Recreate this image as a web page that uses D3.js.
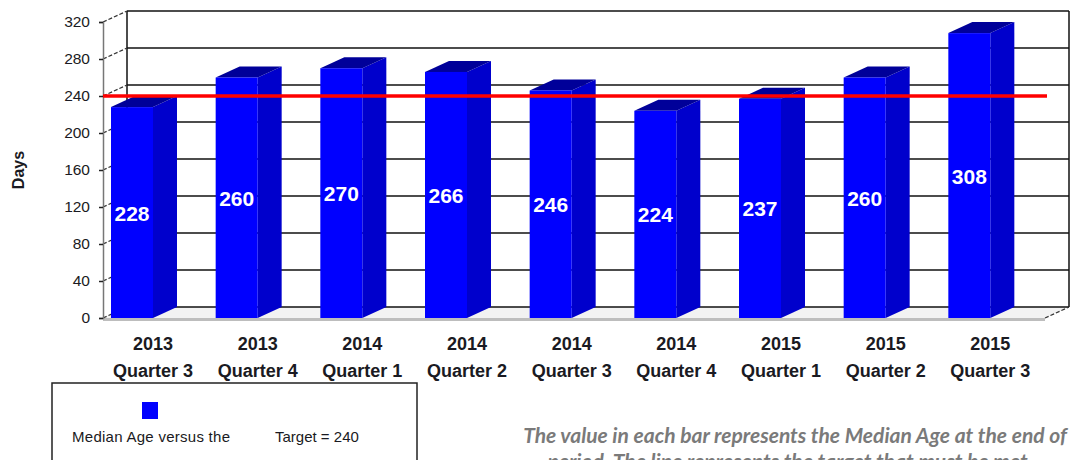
<!DOCTYPE html>
<html>
<head>
<meta charset="utf-8">
<script src="https://cdn.jsdelivr.net/npm/d3@7"></script>
<style>
  body { margin: 0; background: #fff; }
  svg { display: block; font-family: "Liberation Sans", Arial, sans-serif; }
</style>
</head>
<body>
<script>
'use strict';

const years = ['2013', '2013', '2014', '2014', '2014', '2014', '2015', '2015', '2015'];
const quarters = ['Quarter 3', 'Quarter 4', 'Quarter 1', 'Quarter 2', 'Quarter 3', 'Quarter 4', 'Quarter 1', 'Quarter 2', 'Quarter 3'];
const medianAge = [228, 260, 270, 266, 246, 224, 237, 260, 308];
const yTicks = [0, 40, 80, 120, 160, 200, 240, 280, 320];
const target = 240;

const W = 1085, H = 460;
const left = 103, right = 1045, depthX = 24, depthY = -11;

const svg = d3.select('body').append('svg')
  .attr('width', W)
  .attr('height', H);

const y = d3.scaleLinear().domain([0, 320]).range([318, 22]);
const x = d3.scaleBand().domain(d3.range(medianAge.length)).range([left, right]);

// floor
svg.append('polygon')
  .attr('points', [[left, y(0)], [right, y(0)], [right + depthX, y(0) + depthY], [left + depthX, y(0) + depthY]].join(' '))
  .attr('fill', '#f2f2f2');
svg.append('line')
  .attr('x1', left).attr('x2', right)
  .attr('y1', y(0) + 1.5).attr('y2', y(0) + 1.5)
  .attr('stroke', '#bdbdbd').attr('stroke-width', 3);

// back wall grid
const back = svg.append('g');
back.selectAll('line.grid')
  .data(yTicks)
  .enter().append('line')
  .attr('x1', left + depthX).attr('x2', right + depthX)
  .attr('y1', d => y(d) + depthY).attr('y2', d => y(d) + depthY)
  .attr('stroke', '#111').attr('stroke-width', 1.5);
back.append('line')
  .attr('x1', left + depthX).attr('x2', left + depthX)
  .attr('y1', y(320) + depthY).attr('y2', y(0) + depthY)
  .attr('stroke', '#111').attr('stroke-width', 1.5);
back.append('line')
  .attr('x1', right + depthX).attr('x2', right + depthX)
  .attr('y1', y(320) + depthY).attr('y2', y(0) + depthY)
  .attr('stroke', '#111').attr('stroke-width', 1.5);

// side wall diagonals
svg.selectAll('line.side')
  .data(yTicks)
  .enter().append('line')
  .attr('x1', left).attr('x2', left + depthX)
  .attr('y1', d => y(d)).attr('y2', d => y(d) + depthY)
  .attr('stroke', '#333').attr('stroke-width', 1.2)
  .attr('stroke-dasharray', '4,2');
svg.append('line')
  .attr('x1', right).attr('x2', right + depthX)
  .attr('y1', y(0)).attr('y2', y(0) + depthY)
  .attr('stroke', '#333').attr('stroke-width', 1.2)
  .attr('stroke-dasharray', '4,2');

// y axis
const yAxis = svg.append('g')
  .attr('transform', `translate(${left},0)`)
  .call(d3.axisLeft(y).tickValues(yTicks).tickSize(4).tickPadding(9));
yAxis.select('.domain').attr('stroke', '#777').attr('stroke-width', 1.5);
yAxis.selectAll('.tick line').attr('stroke', '#222').attr('stroke-width', 1.5);
yAxis.selectAll('.tick text')
  .attr('font-size', 15.5).attr('fill', '#1a1a22')
  .attr('font-family', '"Liberation Sans", Arial, sans-serif');

svg.append('text')
  .attr('transform', 'translate(24,170) rotate(-90)')
  .attr('text-anchor', 'middle')
  .attr('font-size', 16).attr('font-weight', 'bold').attr('fill', '#1a1a22')
  .text('Days');

// bars
const barOff = 8, barW = 42;
const bars = svg.selectAll('g.bar')
  .data(medianAge)
  .enter().append('g')
  .attr('class', 'bar');

bars.append('polygon') // side
  .attr('points', (d, i) => {
    const x1 = x(i) + barOff + barW;
    return [[x1, y(d)], [x1 + depthX, y(d) + depthY], [x1 + depthX, y(0) + depthY], [x1, y(0)]].join(' ');
  })
  .attr('fill', '#0000cc');
bars.append('polygon') // top
  .attr('points', (d, i) => {
    const x0 = x(i) + barOff, x1 = x0 + barW;
    return [[x0, y(d)], [x1, y(d)], [x1 + depthX, y(d) + depthY], [x0 + depthX, y(d) + depthY]].join(' ');
  })
  .attr('fill', '#000099');
bars.append('rect') // front
  .attr('x', (d, i) => x(i) + barOff)
  .attr('y', d => y(d))
  .attr('width', barW)
  .attr('height', d => y(0) - y(d))
  .attr('fill', '#0000ff');

bars.append('text')
  .attr('x', (d, i) => x(i) + barOff + barW / 2)
  .attr('y', d => y(d / 2) + 8)
  .attr('text-anchor', 'middle')
  .attr('font-size', 21).attr('font-weight', 'bold').attr('fill', '#fff')
  .text(d => d);

// target line
svg.append('line')
  .attr('x1', left).attr('x2', right + 2)
  .attr('y1', y(target)).attr('y2', y(target))
  .attr('stroke', '#ff0000').attr('stroke-width', 3.5);

// category labels
const cats = svg.selectAll('g.cat')
  .data(years)
  .enter().append('g')
  .attr('transform', (d, i) => `translate(${x(i) + barOff + barW},0)`);
cats.append('text')
  .attr('y', 350)
  .attr('text-anchor', 'middle')
  .attr('font-size', 18).attr('font-weight', 'bold').attr('fill', '#1a1a22')
  .text(d => d);
cats.append('text')
  .attr('y', 377)
  .attr('text-anchor', 'middle')
  .attr('font-size', 18).attr('font-weight', 'bold').attr('fill', '#1a1a22')
  .text((d, i) => quarters[i]);

// legend
const legend = svg.append('g');
legend.append('rect')
  .attr('x', 52).attr('y', 383)
  .attr('width', 365).attr('height', 100)
  .attr('fill', 'none').attr('stroke', '#222').attr('stroke-width', 1.5);
legend.append('rect')
  .attr('x', 142).attr('y', 402)
  .attr('width', 16).attr('height', 17)
  .attr('fill', '#0000ff');
legend.append('text')
  .attr('x', 72).attr('y', 442)
  .attr('font-size', 15).attr('fill', '#1a1a22')
  .attr('textLength', 158)
  .text('Median Age versus the');
legend.append('text')
  .attr('x', 275).attr('y', 442)
  .attr('font-size', 15).attr('fill', '#1a1a22')
  .text('Target = 240');

// note
const note = svg.append('g')
  .attr('font-family', 'Lato, "Open Sans", sans-serif')
  .attr('font-style', 'italic').attr('font-weight', 'bold')
  .attr('font-size', 21).attr('fill', '#7a7a7a')
  .attr('text-anchor', 'middle');
note.append('text')
  .attr('x', 795).attr('y', 443)
  .text('The value in each bar represents the Median Age at the end of');
note.append('text')
  .attr('x', 790).attr('y', 469)
  .text('period. The line represents the target that must be met.');
</script>
</body>
</html>
